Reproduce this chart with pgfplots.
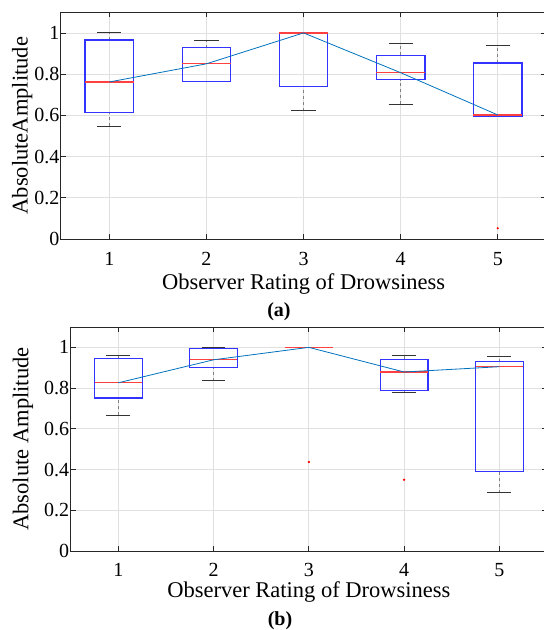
\documentclass[border=0pt]{standalone}
\usepackage{pgfplots}
\pgfplotsset{compat=1.18}
\usepgfplotslibrary{statistics}
\usepackage{fontspec}
\setmainfont{Liberation Serif}
\definecolor{mline}{rgb}{0,0.447,0.741}
\definecolor{boxblue}{rgb}{0.2,0.2,1}
\definecolor{medred}{rgb}{1,0.25,0.25}
\definecolor{axcol}{rgb}{0.15,0.15,0.15}
\pgfplotsset{
  mybox/.style={
    scale only axis,
    clip=false,
    xmin=0.5, xmax=5.5, ymin=0, ymax=1.1,
    xtick={1,2,3,4,5},
    ytick={0,0.2,0.4,0.6,0.8,1},
    yticklabels={0,0.2,0.4,0.6,0.8,1},
    tick align=inside,
    major tick length=5pt,
    xmajorgrids, ymajorgrids,
    grid style={black!12, line width=0.7pt},
    axis line style={axcol, line width=0.8pt},
    every tick/.style={axcol, line width=0.8pt},
    tick label style={font=\fontsize{20}{24}\selectfont},
    label style={font=\fontsize{22.5}{27}\selectfont},
    /pgf/number format/assume math mode=true,
    xticklabel style={anchor=center, yshift=-20pt},
    yticklabel style={xshift=2pt},
    boxplot/draw direction=y,
    boxplot/box extend=0.5,
    boxplot/whisker extend=0.25,
    boxplot/every median/.style={draw=medred, line width=1.2pt},
    boxplot/every box/.style={draw=boxblue, line width=1.2pt},
    boxplot/draw/lower whisker/.code={%
      \draw[black!50, dashed, line width=0.6pt] (boxplot cs:\pgfplotsboxplotvalue{lower whisker}) -- (boxplot cs:\pgfplotsboxplotvalue{lower quartile});
      \draw[black!80, line width=1pt] (boxplot whisker cs:\pgfplotsboxplotvalue{lower whisker},0) -- (boxplot whisker cs:\pgfplotsboxplotvalue{lower whisker},1);
    },
    boxplot/draw/upper whisker/.code={%
      \draw[black!50, dashed, line width=0.6pt] (boxplot cs:\pgfplotsboxplotvalue{upper quartile}) -- (boxplot cs:\pgfplotsboxplotvalue{upper whisker});
      \draw[black!80, line width=1pt] (boxplot whisker cs:\pgfplotsboxplotvalue{upper whisker},0) -- (boxplot whisker cs:\pgfplotsboxplotvalue{upper whisker},1);
    },
  },
  bx/.style={boxblue, solid, mark=*, mark size=0.9pt, mark options={draw=red, fill=red}},
}
\begin{document}
\begin{tikzpicture}
\path[use as bounding box] (0,0) rectangle (544pt,630pt);
% ---------------- (a)
\begin{axis}[mybox,
  at={(60.8pt,391pt)}, anchor=south west,
  width=485.5pt, height=226.7pt,
  xlabel={Observer Rating of Drowsiness},
  ylabel={AbsoluteAmplitude},
  xlabel style={at={(axis description cs:0.5,-0.2206)}, anchor=base},
  ylabel style={at={(axis description cs:-0.0793,0.5)}, anchor=center},
]
\addplot[bx, boxplot prepared={draw position=1, lower whisker=0.547, lower quartile=0.613, median=0.762, upper quartile=0.966, upper whisker=1.0}] coordinates {};
\addplot[bx, boxplot prepared={draw position=2, lower whisker=0.762, lower quartile=0.766, median=0.850, upper quartile=0.929, upper whisker=0.964}] coordinates {};
\addplot[bx, boxplot prepared={draw position=3, lower whisker=0.623, lower quartile=0.739, median=1.0, upper quartile=1.0, upper whisker=1.0}] coordinates {};
\addplot[bx, boxplot prepared={draw position=4, lower whisker=0.654, lower quartile=0.773, median=0.807, upper quartile=0.892, upper whisker=0.947}] coordinates {};
\addplot[bx, boxplot prepared={draw position=5, lower whisker=0.595, lower quartile=0.594, median=0.602, upper quartile=0.854, upper whisker=0.938}] coordinates {(0,0.052)};
\addplot[mline, line width=0.8pt, mark=none] coordinates {(1,0.762) (2,0.850) (3,1.0) (4,0.807) (5,0.602)};
\node[font=\bfseries\fontsize{20}{24}\selectfont, anchor=center] at (axis description cs:0.4494,-0.322) {(a)};
\end{axis}
% ---------------- (b)
\begin{axis}[mybox,
  at={(70.7pt,79pt)}, anchor=south west,
  width=476.3pt, height=224pt,
  xlabel={Observer Rating of Drowsiness},
  ylabel={Absolute Amplitude},
  xticklabel style={yshift=1pt},
  xlabel style={at={(axis description cs:0.5,-0.2054)}, anchor=base},
  ylabel style={at={(axis description cs:-0.1001,0.5)}, anchor=center},
]
\addplot[bx, boxplot prepared={draw position=1, lower whisker=0.666, lower quartile=0.751, median=0.826, upper quartile=0.946, upper whisker=0.961}] coordinates {};
\addplot[bx, boxplot prepared={draw position=2, lower whisker=0.835, lower quartile=0.902, median=0.939, upper quartile=0.993, upper whisker=1.0}] coordinates {};
\addplot[bx, boxplot prepared={draw position=3, lower whisker=1.0, lower quartile=1.0, median=1.0, upper quartile=1.0, upper whisker=1.0}] coordinates {(0,0.437)};
\addplot[bx, boxplot prepared={draw position=4, lower whisker=0.777, lower quartile=0.787, median=0.879, upper quartile=0.941, upper whisker=0.962}] coordinates {(0,0.350)};
\addplot[bx, boxplot prepared={draw position=5, lower whisker=0.285, lower quartile=0.389, median=0.905, upper quartile=0.929, upper whisker=0.957}] coordinates {};
\addplot[mline, line width=0.8pt, mark=none] coordinates {(1,0.826) (2,0.939) (3,1.0) (4,0.879) (5,0.905)};
\node[font=\bfseries\fontsize{20}{24}\selectfont, anchor=center] at (axis description cs:0.4394,-0.311) {(b)};
\end{axis}
\end{tikzpicture}
\end{document}
